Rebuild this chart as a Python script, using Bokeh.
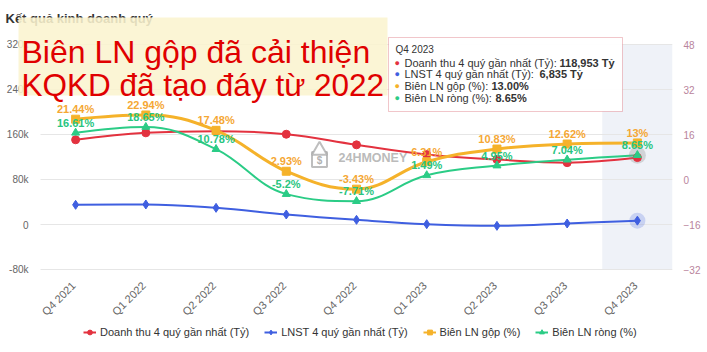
import math
from bokeh.plotting import figure
from bokeh.models import (Range1d, LinearAxis, FixedTicker, Legend, LegendItem,
                          Label, BoxAnnotation, ColumnDataSource)
from bokeh.core.properties import value
from bokeh.embed import file_html
from bokeh.resources import INLINE

# ---------------- data ----------------
quarters = ["Q4 2021", "Q1 2022", "Q2 2022", "Q3 2022", "Q4 2022",
            "Q1 2023", "Q2 2023", "Q3 2023", "Q4 2023"]
revenue = [150600, 163000, 166000, 160500, 141600, 124400, 115500, 110000, 118953]
profit = [35000, 35600, 29600, 17800, 8300, 600, -2400, 1800, 6835]
gross_margin = [21.44, 22.94, 17.48, 2.93, -3.43, 6.31, 10.83, 12.62, 13.00]
net_margin = [16.61, 18.65, 10.78, -5.2, -7.71, 1.49, 4.95, 7.04, 8.65]

left_ticks = [-80000, 0, 80000, 160000, 240000, 320000]
left_tick_labels = ["-80k", "0", "80k", "160k", "240k", "320k"]
right_ticks = [-32, -16, 0, 16, 32, 48]

series_names = ["Doanh thu 4 quý gần nhất (Tỷ)", "LNST 4 quý gần nhất (Tỷ)",
                "Biên LN gộp (%)", "Biên LN ròng (%)"]
tooltip_values = ["118,953 Tỷ", "6,835 Tỷ", "13.00%", "8.65%"]
chart_title = "Kết quả kinh doanh quý"
note_lines = ["Biên LN gộp đã cải thiện", "KQKD đã tạo đáy từ 2022"]

RED, BLUE, ORANGE, GREEN = "#e3323f", "#3f5fe0", "#f5b22a", "#2bcc86"
FONT = "Liberation Sans"

xs = list(range(len(quarters)))

# ---------------- layout geometry (pixels) ----------------
W, H, RIGHT_AXIS_W = 707, 352, 35
PLOT_L, PLOT_R, PLOT_T, PLOT_B = 40, 672, 44, 269   # plotting band inside the frame
n = len(quarters)
unit_x = n / (PLOT_R - PLOT_L)
y_lo, y_hi = left_ticks[0], left_ticks[-1]
r_lo, r_hi = right_ticks[0], right_ticks[-1]
unit_y = (y_hi - y_lo) / (PLOT_B - PLOT_T)
unit_r = (r_hi - r_lo) / (PLOT_B - PLOT_T)
x_start = -0.5 - PLOT_L * unit_x
y_top = y_hi + PLOT_T * unit_y
y_bot = y_lo - (H - PLOT_B) * unit_y
r_top = r_hi + PLOT_T * unit_r
r_bot = r_lo - (H - PLOT_B) * unit_r


def spline(xv, yv, smoothing=1.5):
    m = len(xv)
    lc = [None] * m
    rc = [None] * m
    d = smoothing + 1
    for i in range(1, m - 1):
        px, py = xv[i], yv[i]
        lx, ly = xv[i - 1], yv[i - 1]
        nx, ny = xv[i + 1], yv[i + 1]
        lcx, lcy = (smoothing * px + lx) / d, (smoothing * py + ly) / d
        rcx, rcy = (smoothing * px + nx) / d, (smoothing * py + ny) / d
        corr = ((rcy - lcy) * (rcx - px)) / (rcx - lcx) + py - rcy
        lcy += corr
        rcy += corr
        if lcy > max(ly, py):
            lcy = max(ly, py); rcy = 2 * py - lcy
        elif lcy < min(ly, py):
            lcy = min(ly, py); rcy = 2 * py - lcy
        if rcy > max(py, ny):
            rcy = max(py, ny); lcy = 2 * py - rcy
        elif rcy < min(py, ny):
            rcy = min(py, ny); lcy = 2 * py - rcy
        lc[i] = (lcx, lcy)
        rc[i] = (rcx, rcy)
    out = dict(x0=[], y0=[], x1=[], y1=[], cx0=[], cy0=[], cx1=[], cy1=[])
    for i in range(m - 1):
        c0 = rc[i] or (xv[i], yv[i])
        c1 = lc[i + 1] or (xv[i + 1], yv[i + 1])
        out["x0"].append(xv[i]); out["y0"].append(yv[i])
        out["x1"].append(xv[i + 1]); out["y1"].append(yv[i + 1])
        out["cx0"].append(c0[0]); out["cy0"].append(c0[1])
        out["cx1"].append(c1[0]); out["cy1"].append(c1[1])
    return ColumnDataSource(out)


p = figure(frame_width=W - RIGHT_AXIS_W, frame_height=H,
           x_range=Range1d(x_start, n - 0.5), y_range=Range1d(y_bot, y_top),
           x_axis_location=None, y_axis_location=None,
           output_backend="svg", toolbar_location=None,
           min_border_left=0, min_border_right=RIGHT_AXIS_W, min_border_top=0,
           min_border_bottom=0, outline_line_color=None,
           background_fill_color="white", border_fill_color="white")
p.extra_y_ranges = {"pct": Range1d(r_bot, r_top)}
p.grid.visible = False

CU = dict(x_units="canvas", y_units="canvas")
BU = dict(left_units="canvas", right_units="canvas", top_units="canvas", bottom_units="canvas")

# highlighted hover band
p.add_layout(BoxAnnotation(left=n - 1.5, right=n - 0.5, top=y_hi, bottom=y_lo,
                           fill_color="#eaeef6", fill_alpha=0.75,
                           line_color=None, level="underlay"))

# horizontal grid lines at the left-axis ticks
p.segment(x0=[-0.5] * len(left_ticks), x1=[n - 0.5] * len(left_ticks),
          y0=left_ticks, y1=left_ticks, line_color="#e6e6e6", line_width=1)

# right axis (percent)
ra = LinearAxis(y_range_name="pct", ticker=FixedTicker(ticks=right_ticks))
p.add_layout(ra, "right")
ra.axis_line_color = None
ra.major_tick_line_color = None
ra.minor_tick_line_color = None
ra.major_tick_out = 0
ra.major_tick_in = 0
ra.major_label_text_font = FONT
ra.major_label_text_font_size = "10px"
ra.major_label_standoff = 11
ra.major_label_text_color = "#b9849c"

# left tick labels (placed by the left value scale)
for t, lab in zip(left_ticks, left_tick_labels):
    p.add_layout(Label(x=PLOT_L - 12, x_units="canvas", y=t, y_units="data", text=lab,
                       text_font=FONT, text_font_size="10px", text_color="#666666",
                       text_align="right", text_baseline="middle"))

# category labels (placed by the x scale), rotated 45 degrees
for i, q in zip(xs, quarters):
    p.add_layout(Label(x=i, x_units="data", y=PLOT_B + 14, y_units="canvas", text=q,
                       angle=math.pi / 4, x_offset=-2,
                       text_font=FONT, text_font_size="11px", text_color="#666666",
                       text_align="right", text_baseline="middle"))

# watermark (logo + name)
logo_x = x_start + 319 * unit_x
logo_y = y_top - 159 * unit_y
p.scatter(x=[logo_x], y=[logo_y], marker="square", size=15, fill_color=None,
          line_color="#a8a8a8", line_width=2, line_alpha=0.75)
p.scatter(x=[logo_x], y=[y_top - 150 * unit_y], marker="triangle", size=15, fill_color="white",
          line_color="#a8a8a8", line_width=2, line_alpha=0.75)
p.add_layout(Label(x=319, y=160, text="$", text_font=FONT, text_font_style="bold",
                   text_font_size="10px", text_color="#a8a8a8", text_alpha=0.9,
                   text_align="center", text_baseline="middle", **CU))
p.add_layout(Label(x=338, y=157, text="24HMONEY", text_font=FONT,
                   text_font_size="12.5px", text_font_style="bold", text_color="#a8a8a8",
                   text_alpha=0.8, text_baseline="middle", **CU))

# curves
p.bezier(source=spline(xs, revenue), x0="x0", y0="y0", x1="x1", y1="y1",
         cx0="cx0", cy0="cy0", cx1="cx1", cy1="cy1", line_color=RED, line_width=2)
p.bezier(source=spline(xs, profit), x0="x0", y0="y0", x1="x1", y1="y1",
         cx0="cx0", cy0="cy0", cx1="cx1", cy1="cy1", line_color=BLUE, line_width=2)
p.bezier(source=spline(xs, gross_margin), x0="x0", y0="y0", x1="x1", y1="y1",
         cx0="cx0", cy0="cy0", cx1="cx1", cy1="cy1", line_color=ORANGE, line_width=3,
         y_range_name="pct")
p.bezier(source=spline(xs, net_margin), x0="x0", y0="y0", x1="x1", y1="y1",
         cx0="cx0", cy0="cy0", cx1="cx1", cy1="cy1", line_color=GREEN, line_width=2,
         y_range_name="pct")

# halos on hovered point
p.scatter(x=[xs[-1]], y=[net_margin[-1]], size=17, fill_color="#8a8a8a", fill_alpha=0.3,
          line_color=None, y_range_name="pct")
p.scatter(x=[xs[-1]], y=[profit[-1]], size=16, fill_color=BLUE, fill_alpha=0.22,
          line_color=None)

# markers
m_red = p.scatter(x=xs, y=revenue, marker="circle", size=8, fill_color=RED, line_color=RED)
m_blue = p.scatter(x=xs, y=profit, marker="diamond", size=9, fill_color=BLUE, line_color=BLUE)
m_or = p.scatter(x=xs, y=gross_margin, marker="square", size=8, fill_color=ORANGE,
                 line_color=ORANGE, y_range_name="pct")
m_gr = p.scatter(x=xs, y=net_margin, marker="triangle", size=8, fill_color=GREEN,
                 line_color=GREEN, y_range_name="pct")

# data labels
p.text(x=xs, y=gross_margin, text=[f"{v:g}%" for v in gross_margin], y_range_name="pct",
       text_font=value(FONT), text_font_size="11px", text_font_style="bold",
       text_color="#f5a733", text_align="center", text_baseline="bottom", y_offset=-4)
p.text(x=xs, y=net_margin, text=[f"{v:g}%" for v in net_margin], y_range_name="pct",
       text_font=value(FONT), text_font_size="11px", text_font_style="bold",
       text_color="#28c57f", text_align="center", text_baseline="bottom", y_offset=-4)

# legend (line + marker), inside the frame below the category labels
legend_items = []
for name, col, mr in zip(series_names, [RED, BLUE, ORANGE, GREEN], [m_red, m_blue, m_or, m_gr]):
    lr = p.line(x=[float("nan")], y=[float("nan")], line_color=col, line_width=2)
    legend_items.append(LegendItem(label=name, renderers=[lr, mr]))
legend = Legend(items=legend_items, orientation="horizontal", location=(83, 14),
                label_text_font=FONT, label_text_font_size="11px", label_text_color="#333333",
                glyph_width=13, glyph_height=12, label_standoff=4, spacing=15,
                border_line_color=None, background_fill_alpha=0, padding=0, margin=0,
                label_height=12)
p.add_layout(legend)

# chart title (partly covered by note box)
p.add_layout(Label(x=5, y=18, text=chart_title, text_font=FONT,
                   text_font_size="13px", text_font_style="bold", text_color="#333333",
                   text_baseline="middle", **CU))

# cream note box with red text
p.add_layout(BoxAnnotation(left=18, right=387, top=17, bottom=95,
                           fill_color="#fbf4cf", fill_alpha=0.88, line_color=None, **BU))
p.add_layout(Label(x=21, y=51, text=note_lines[0], text_font=FONT,
                   text_font_size="32px", text_color="#e00000", text_baseline="alphabetic", **CU))
p.add_layout(Label(x=21, y=84, text=note_lines[1], text_font=FONT,
                   text_font_size="31.5px", text_color="#e00000", text_baseline="alphabetic", **CU))

# tooltip
p.add_layout(BoxAnnotation(left=388, right=622, top=37, bottom=111,
                           fill_color="white", fill_alpha=0.95, line_color="#cf4150",
                           line_width=1, **BU))
p.add_layout(Label(x=395, y=49, text=quarters[-1], text_font=FONT,
                   text_font_size="10px", text_color="#333333", text_baseline="middle", **CU))
rows_y = [62, 73, 85, 97]
bold_x = [559, 539, 491, 495]
for name, col, val, ry, bx in zip(series_names, [RED, BLUE, ORANGE, GREEN],
                                 tooltip_values, rows_y, bold_x):
    p.add_layout(Label(x=394, y=ry, text="●", text_font=FONT,
                       text_font_size="9px", text_color=col, text_baseline="middle", **CU))
    p.add_layout(Label(x=404, y=ry, text=name + ":", text_font=FONT,
                       text_font_size="11px", text_color="#333333", text_baseline="middle", **CU))
    p.add_layout(Label(x=bx, y=ry, text=val, text_font=FONT,
                       text_font_size="11px", text_font_style="bold", text_color="#333333",
                       text_baseline="middle", **CU))

open("out.html", "w").write(file_html(p, INLINE))
